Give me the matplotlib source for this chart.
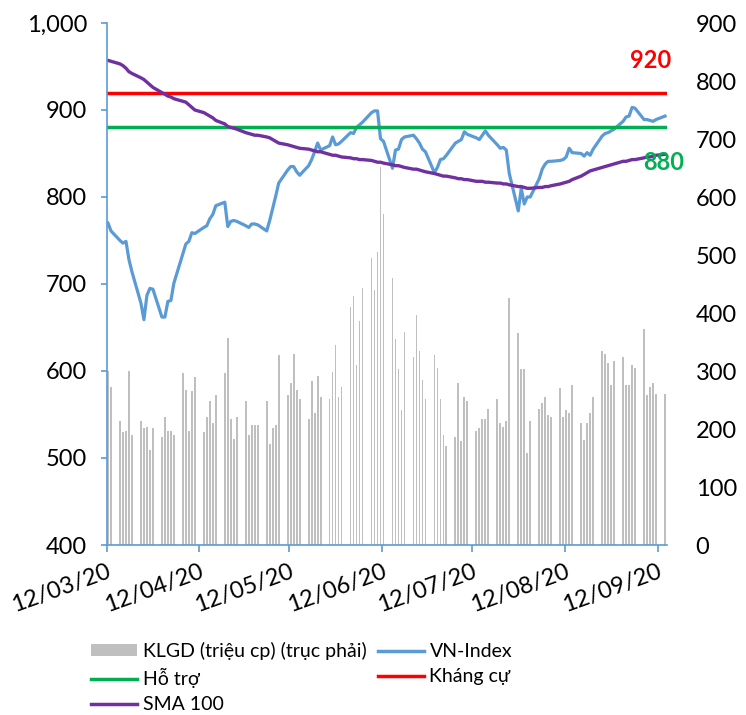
import matplotlib
matplotlib.use("Agg")
import matplotlib.pyplot as plt
import matplotlib.dates as mdates
import pandas as pd
from matplotlib.patches import Patch
from matplotlib.lines import Line2D

plt.rcParams['font.family'] = ['Lato', 'DejaVu Sans']

# trading days (weekdays) 12/03/2020 - 14/09/2020
dates = pd.bdate_range('2020-03-12', '2020-09-14')

volume = [
    300, 272, 214, 194, 197, 300, 190, 214, 201, 204, 163, 201, 187, 221,
    197, 197, 190, 296, 268, 197, 266, 289, 194, 221, 249, 211, 258, 296, 357, 218, 183, 221, 249, 190, 207, 207,
    207, 249, 175, 201, 207, 327, 258, 279, 330, 268, 252, 218, 282, 227, 292, 255, 251, 299, 344, 255, 272,
    410, 429, 310, 386, 443, 495, 440, 505, 652, 571, 460, 355, 303, 232, 368, 324, 396, 334, 285, 252, 327, 306,
    251, 190, 170, 187, 279, 180, 255, 249, 197, 201, 218, 218, 235, 252, 211, 204, 214, 426, 365, 303, 303, 159, 214,
    235, 245, 256, 225, 221, 270, 221, 232, 228, 276, 211, 181, 211, 228, 256, 334, 330, 314, 276, 317, 324,
    276, 276, 310, 306, 372, 259, 272, 279, 261, 261,
]

vnindex = [
    770, 761, 750, 747, 749, 728, 714, 678, 659, 687, 695, 694, 662, 662,
    680, 681, 701, 735, 746, 749, 759, 758, 765, 767, 775, 780, 790, 794, 766, 772, 773, 772, 767, 765, 769, 769,
    768, 761, 773, 787, 801, 816, 831, 835, 835, 829, 825, 836, 843, 852, 862, 854, 859, 869, 860, 861, 864,
    874, 873, 880, 883, 886, 897, 899, 899, 867, 864, 833, 854, 855, 866, 869, 871, 867, 862, 855, 852, 828, 834,
    843, 844, 848, 862, 864, 866, 875, 872, 868, 866, 871, 876, 871, 860, 856, 857, 854, 827, 784, 810, 792, 800, 800,
    821, 832, 838, 841, 841, 842, 843, 846, 856, 851, 850, 847, 851, 848, 855, 870, 873, 874, 876, 878, 887,
    892, 893, 903, 902, 889, 889, 888, 887, 889, 893,
]

sma100 = [
    957, 956, 953, 951, 948, 944, 942, 937, 935, 932, 929, 926, 920, 918,
    916, 915, 913, 910, 909, 906, 903, 900, 897, 895, 893, 891, 888, 884, 881, 880, 879, 878, 874, 873, 872, 871,
    871, 869, 868, 866, 864, 862, 860, 859, 858, 857, 856, 855, 854, 853, 852, 852, 849, 848, 848, 847, 846,
    845, 844, 844, 843, 843, 842, 841, 840, 840, 839, 837, 836, 836, 835, 834, 832, 832, 831, 830, 829, 827, 826,
    825, 824, 824, 822, 821, 821, 820, 820, 818, 818, 818, 817, 817, 816, 816, 815, 815, 814, 812, 812, 811, 810, 810,
    811, 811, 812, 812, 813, 815, 816, 817, 818, 820, 824, 826, 828, 830, 831, 834, 835, 836, 837, 838, 841,
    841, 842, 843, 843, 845, 846, 846, 847, 848, 849,
]

support = 880
resistance = 920
left_ticks = [400, 500, 600, 700, 800, 900, 1000]
right_ticks = [0, 100, 200, 300, 400, 500, 600, 700, 800, 900]

labels = {
    'vol': 'KLGD (triệu cp) (trục phải)',
    'vni': 'VN-Index',
    'sup': 'Hỗ trợ',
    'res': 'Kháng cự',
    'sma': 'SMA 100',
}

C_BLUE = '#5B9BD5'
C_RED = '#FF0000'
C_GREEN = '#00B050'
C_PURPLE = '#7030A0'
C_GREY = '#BFBFBF'
C_AXIS = '#5B9BD5'

W, H = 746, 715
fig = plt.figure(figsize=(W / 100, H / 100), dpi=100)
ax = fig.add_axes([106.5 / W, 1 - 545 / H, (666.5 - 106.5) / W, (545 - 23) / H])
ax2 = ax.twinx()

x = dates + pd.Timedelta(hours=12)

ax2.bar(x, volume, width=0.6, color=C_GREY, linewidth=0, zorder=1)
ax2.set_ylim(0, 900)
ax2.set_yticks(right_ticks)

ax.set_zorder(ax2.get_zorder() + 1)
ax.patch.set_visible(False)

ax.plot(x, vnindex, color=C_BLUE, lw=2.3, solid_joinstyle='round')
ax.axhline(resistance, color=C_RED, lw=2.5)
ax.axhline(support, color=C_GREEN, lw=2.5)
ax.plot(x, sma100, color=C_PURPLE, lw=2.4, solid_joinstyle='round')

ax.set_ylim(400, 1000)
ax.set_yticks(left_ticks)
ax.set_yticklabels([f'{v:,}' for v in left_ticks])
ax.set_xlim(pd.Timestamp('2020-03-12'), pd.Timestamp('2020-09-15'))

ax.xaxis.set_major_locator(mdates.DayLocator(bymonthday=12))
ax.xaxis.set_major_formatter(mdates.DateFormatter('%d/%m/%y'))

fs = 17
for a in (ax, ax2):
    for s in a.spines.values():
        s.set_visible(False)
ax.spines['left'].set_visible(True)
ax.spines['bottom'].set_visible(True)
ax.spines['left'].set_color(C_AXIS)
ax.spines['bottom'].set_color(C_AXIS)
ax.spines['left'].set_linewidth(1.2)
ax.spines['bottom'].set_linewidth(1.2)

ax.tick_params(axis='y', which='major', direction='out', length=4, width=1.2,
               color=C_AXIS, labelsize=fs, pad=10)
ax.tick_params(axis='x', which='major', direction='out', length=5, width=1.2,
               color=C_AXIS, labelsize=fs, pad=6)
ax2.tick_params(axis='y', which='major', length=0, labelsize=fs, pad=21)
for lab in ax2.get_yticklabels():
    lab.set_horizontalalignment('left')

for lab in ax.get_xticklabels():
    lab.set_rotation(20)
    lab.set_horizontalalignment('right')
    lab.set_rotation_mode('anchor')

ax.text(651, 60, '920', transform=None, color=C_RED, fontsize=17,
        fontweight='bold', ha='center', va='center')
ax.text(664, 163, '880', transform=None, color=C_GREEN, fontsize=17,
        fontweight='bold', ha='center', va='center')
# convert pixel coords (top-left origin) to figure coords
for t in ax.texts:
    px, py = t.get_position()
    t.set_transform(fig.transFigure)
    t.set_position((px / W, 1 - py / H))

handles = [
    Patch(facecolor=C_GREY, edgecolor='none'),
    Line2D([], [], color=C_GREEN, lw=2.5),
    Line2D([], [], color=C_PURPLE, lw=2.5),
    Line2D([], [], color=C_BLUE, lw=2.5),
    Line2D([], [], color=C_RED, lw=2.5),
]
names = [labels['vol'], labels['sup'], labels['sma'], labels['vni'], labels['res']]
fig.legend(handles, names, loc='upper left', bbox_to_anchor=(91 / W, 1 - 642 / H),
           ncol=2, frameon=False, fontsize=14, handlelength=2.35, handleheight=0.6,
           handletextpad=0.3, columnspacing=0.6, labelspacing=0.42,
           borderpad=0, borderaxespad=0)

fig.savefig('out.png', dpi=100)
